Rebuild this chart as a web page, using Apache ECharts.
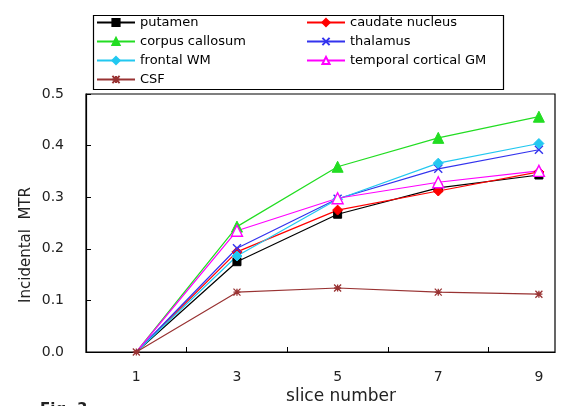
<!DOCTYPE html>
<html><head><meta charset="utf-8">
<script src="https://cdn.jsdelivr.net/npm/echarts@6/dist/echarts.min.js"></script>
<style>html,body{margin:0;padding:0;background:#fff}#c{width:561px;height:406px}</style>
</head><body><div id="c"></div>
<script>
const slices = [1, 3, 5, 7, 9];
const putamen = [0, 0.175, 0.267, 0.318, 0.343];
const caudate = [0, 0.194, 0.275, 0.312, 0.349];
const corpus = [0, 0.243, 0.359, 0.415, 0.456];
const thalamus = [0, 0.201, 0.297, 0.355, 0.392];
const frontal = [0, 0.186, 0.296, 0.366, 0.404];
const temporal = [0, 0.235, 0.298, 0.329, 0.351];
const csf = [0, 0.116, 0.124, 0.116, 0.112];
const yTicks = [0, 0.1, 0.2, 0.3, 0.4, 0.5];
const xTickBetween = [2, 4, 6, 8];

const X_PATH = 'path://M0,0L10,10M10,0L0,10';
const AST_PATH = 'path://M0,0L10,10M10,0L0,10M5,0L5,10M0,5L10,5';

function pairs(arr, hideFirst) {
  return slices.map((s, i) => (hideFirst && i === 0) ? { value: [s, arr[i]], symbol: 'none' } : [s, arr[i]]);
}
function mk(name, data, color, symbol, size, extra, showFirst) {
  return Object.assign({
    name, type: 'line', data: pairs(data, !showFirst), symbol, symbolSize: size,
    lineStyle: { color, width: 1.2 },
    itemStyle: { color, borderColor: color, borderWidth: 1 },
    emphasis: { disabled: true }, animation: false, z: 3
  }, extra || {});
}
const series = [
  mk('putamen', putamen, '#000000', 'rect', 8),
  mk('caudate nucleus', caudate, '#ff0000', 'diamond', 10),
  mk('corpus callosum', corpus, '#22dd22', 'triangle', 11),
  mk('thalamus', thalamus, '#3333ee', X_PATH, 8, { itemStyle: { color: 'none', borderColor: '#3333ee', borderWidth: 1.4 } }),
  mk('frontal WM', frontal, '#22c8f0', 'diamond', 10),
  mk('temporal cortical GM', temporal, '#ff00ff', 'triangle', 11, { itemStyle: { color: '#ffffff', borderColor: '#ff00ff', borderWidth: 1.4 } }),
  mk('CSF', csf, '#993333', AST_PATH, 7, { itemStyle: { color: 'none', borderColor: '#993333', borderWidth: 1.3 } }, true)
];
const legText = { fontFamily: 'DejaVu Sans', fontSize: 13, color: '#000' };
const chart = echarts.init(document.getElementById('c'), null, { renderer: 'canvas' });
chart.setOption({
  backgroundColor: '#fff',
  animation: false,
  grid: { left: 86, right: 6, top: 94, bottom: 54, show: true, borderColor: '#000', borderWidth: 1.2, backgroundColor: 'transparent' },
  legend: [
    { orient: 'vertical', left: 96, top: 16, padding: 0, itemWidth: 38, itemHeight: 9, itemGap: 6, textStyle: legText,
      data: ['putamen', 'corpus callosum', 'frontal WM', 'CSF'] },
    { orient: 'vertical', left: 306, top: 16, padding: 0, itemWidth: 38, itemHeight: 9, itemGap: 6, textStyle: legText,
      data: ['caudate nucleus', 'thalamus', 'temporal cortical GM'] }
  ],
  xAxis: {
    type: 'value', min: 0, max: 9.32,
    axisLine: { show: true, lineStyle: { color: '#000', width: 1.2 } },
    axisTick: { show: true, inside: true, length: 5, customValues: xTickBetween, lineStyle: { color: '#000' } },
    axisLabel: { customValues: slices, margin: 18, fontFamily: 'DejaVu Sans', fontSize: 14, color: '#222' },
    splitLine: { show: false }
  },
  yAxis: {
    type: 'value', min: 0, max: 0.5, interval: 0.1,
    axisLine: { show: true, lineStyle: { color: '#000', width: 1.2 } },
    axisTick: { show: true, inside: true, length: 5, lineStyle: { color: '#000' } },
    axisLabel: { margin: 22, fontFamily: 'DejaVu Sans', fontSize: 14, color: '#222', formatter: v => v.toFixed(1) },
    splitLine: { show: false }
  },
  graphic: [
    { type: 'rect', left: 91, top: 13, shape: { width: 410, height: 74 }, style: { fill: 'none', stroke: '#000', lineWidth: 1.2 }, z: 10, silent: true },
    { type: 'text', x: 26, y: 245, rotation: Math.PI / 2, style: { text: 'Incidental  MTR', fontFamily: 'DejaVu Sans', fontSize: 15, fill: '#222', align: 'center', verticalAlign: 'middle' } },
    { type: 'text', x: 341, y: 397, style: { text: 'slice number', fontFamily: 'DejaVu Sans', fontSize: 17, fill: '#222', align: 'center', verticalAlign: 'middle' } },
    { type: 'text', x: 40, y: 403, style: { text: 'Fig. 3', fontFamily: 'DejaVu Sans', fontSize: 15, fontWeight: 'bold', fill: '#222', align: 'left', verticalAlign: 'top' } }
  ],
  series
});
</script></body></html>
